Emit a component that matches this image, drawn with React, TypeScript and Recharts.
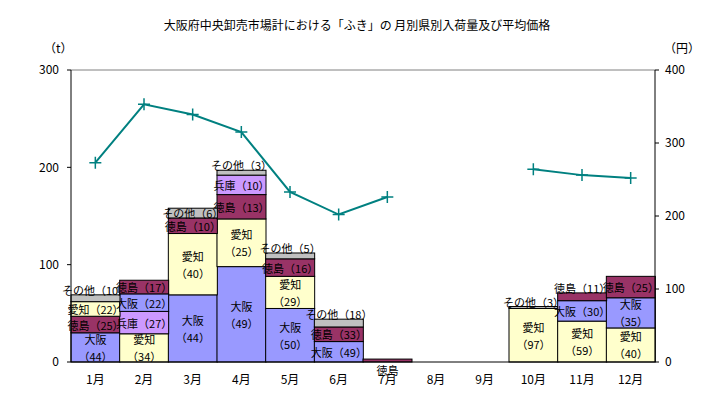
import { ComposedChart, Bar, Line, XAxis, YAxis, ReferenceLine } from 'recharts';

// 月
const months = ['1月', '2月', '3月', '4月', '5月', '6月', '7月', '8月', '9月', '10月', '11月', '12月'];

// 県別入荷量 (t)
const osakaTon = [30, 18, 69, 98, 55, 21, null, null, null, null, 21, 31];
const aichiTon = [15, 29, 63, 49, 33, null, null, null, null, 55, 42, 35];
const hyogoTon = [null, 23, null, 20, null, null, null, null, null, null, null, null];
const tokushimaTon = [17, 14, 16, 25, 18, 15, 3, null, null, null, 8, 22];
const othersTon = [7, null, 10, 5, 6, 8, null, null, null, 2, null, null];

// 県別シェア (%)
const osakaPct = [44, 22, 44, 49, 50, 49, null, null, null, null, 30, 35];
const aichiPct = [22, 34, 40, 25, 29, null, null, null, null, 97, 59, 40];
const hyogoPct = [null, 27, null, 10, null, null, null, null, null, null, null, null];
const tokushimaPct = [25, 17, 10, 13, 16, 33, null, null, null, null, 11, 25];
const othersPct = [10, null, 6, 3, 5, 18, null, null, null, 3, null, null];

// 平均価格 (円)
const price = [273, 353, 339, 315, 233, 202, 226, null, null, 264, 256, 252];

// 積み上げ順 (下から)
const stackOrder = [
  ['大阪', '徳島', '愛知', 'その他'],
  ['愛知', '兵庫', '大阪', '徳島'],
  ['大阪', '愛知', '徳島', 'その他'],
  ['大阪', '愛知', '徳島', '兵庫', 'その他'],
  ['大阪', '愛知', '徳島', 'その他'],
  ['大阪', '徳島', 'その他'],
  ['徳島'],
  [],
  [],
  ['愛知', 'その他'],
  ['愛知', '大阪', '徳島'],
  ['愛知', '大阪', '徳島'],
];

const prefs: Record<string, { ton: (number | null)[]; pct: (number | null)[]; color: string }> = {
  大阪: { ton: osakaTon, pct: osakaPct, color: '#9999ff' },
  愛知: { ton: aichiTon, pct: aichiPct, color: '#ffffcc' },
  兵庫: { ton: hyogoTon, pct: hyogoPct, color: '#cc99ff' },
  徳島: { ton: tokushimaTon, pct: tokushimaPct, color: '#993366' },
  その他: { ton: othersTon, pct: othersPct, color: '#c0c0c0' },
};

const ranks = [0, 1, 2, 3, 4];

const rows = months.map((m, i) => {
  const row: any = { month: m, idx: i, price: price[i] };
  stackOrder[i].forEach((p, r) => {
    row['r' + r] = prefs[p].ton[i];
    row['n' + r] = p;
    row['p' + r] = prefs[p].pct[i];
  });
  return row;
});

const FONT = '"Noto Sans CJK JP", sans-serif';
const labelStyle = { fontSize: 11, fontFamily: FONT, fill: '#000' };

function segLabel(row: any, r: number, x: number, y: number, width: number, height: number) {
  const name = row['n' + r];
  const pct = row['p' + r];
  const cx = x + width / 2;
  const text = pct != null ? `${name}（${pct}）` : name;
  if (height < 8) {
    const alone = stackOrder[row.idx].length === 1;
    const cy = alone ? y + height + 8 : y - 5;
    return (
      <text x={cx} y={cy} textAnchor="middle" dominantBaseline="central" style={labelStyle}>
        {text}
      </text>
    );
  }
  const cy = y + height / 2;
  if (height >= 25 && pct != null) {
    return (
      <g>
        <text x={cx} y={cy - 8.5} textAnchor="middle" dominantBaseline="central" style={labelStyle}>
          {name}
        </text>
        <text x={cx} y={cy + 8.5} textAnchor="middle" dominantBaseline="central" style={labelStyle}>
          {`（${pct}）`}
        </text>
      </g>
    );
  }
  return (
    <text x={cx} y={cy} textAnchor="middle" dominantBaseline="central" style={labelStyle}>
      {text}
    </text>
  );
}

function makeShape(r: number) {
  return (props: any) => {
    const { x, y, width, height, payload } = props;
    if (!payload || payload['r' + r] == null || !payload['n' + r]) return <g />;
    const color = prefs[payload['n' + r]].color;
    return (
      <g>
        <rect x={x} y={y} width={width} height={height} fill={color} stroke="#000" strokeWidth={1} />
        {segLabel(payload, r, x, y, width, height)}
      </g>
    );
  };
}

const PlusDot = (props: any) => {
  const { cx, cy, value } = props;
  if (value == null || cx == null || cy == null) return <g />;
  return (
    <path
      d={`M${cx - 6},${cy}h12M${cx},${cy - 6}v12`}
      stroke="#008080"
      strokeWidth={1.5}
      fill="none"
    />
  );
};

export default function App() {
  return (
    <div style={{ position: 'absolute', left: 0, top: 0, width: 718, height: 396, background: '#fff', fontFamily: FONT }}>
      <div style={{ position: 'absolute', left: 0, width: 718, top: 16, textAlign: 'center', fontSize: 12, color: '#000' }}>
        <span style={{ marginLeft: -4 }}>大阪府中央卸売市場計における「ふき」の 月別県別入荷量及び平均価格</span>
      </div>
      <div style={{ position: 'absolute', left: 44, top: 39, fontSize: 12 }}>（t）</div>
      <div style={{ position: 'absolute', left: 664, top: 39, fontSize: 12 }}>（円）</div>
      <ComposedChart
        width={718}
        height={396}
        data={rows}
        margin={{ top: 70, right: 23, bottom: 4, left: 31 }}
        barCategoryGap={0}
        barGap={0}
      >
        <XAxis
          dataKey="month"
          axisLine={{ stroke: '#000' }}
          tickLine={false}
          tickSize={0}
          tickMargin={13}
          height={30}
          interval={0}
          tick={{ fontSize: 12, fill: '#000', fontFamily: FONT }}
        />
        <YAxis
          yAxisId="left"
          domain={[0, 300]}
          ticks={[0, 100, 200, 300]}
          width={40}
          axisLine={{ stroke: '#000' }}
          tickLine={{ stroke: '#000' }}
          tickSize={4}
          tickMargin={8}
          tick={{ fontSize: 12, fill: '#000', fontFamily: FONT }}
        />
        <YAxis
          yAxisId="right"
          orientation="right"
          domain={[0, 400]}
          ticks={[0, 100, 200, 300, 400]}
          width={40}
          axisLine={{ stroke: '#000' }}
          tickLine={{ stroke: '#000' }}
          tickSize={4}
          tickMargin={6}
          tick={{ fontSize: 12, fill: '#000', fontFamily: FONT, textAnchor: 'start' }}
        />
        <ReferenceLine yAxisId="left" y={300} stroke="#808080" />
        {ranks.map((r) => (
          <Bar
            key={r}
            yAxisId="left"
            dataKey={'r' + r}
            stackId="a"
            shape={makeShape(r)}
            isAnimationActive={false}
          />
        ))}
        <Line
          yAxisId="right"
          dataKey="price"
          stroke="#008080"
          strokeWidth={2}
          dot={<PlusDot />}
          activeDot={false}
          connectNulls={false}
          isAnimationActive={false}
        />
      </ComposedChart>
    </div>
  );
}
